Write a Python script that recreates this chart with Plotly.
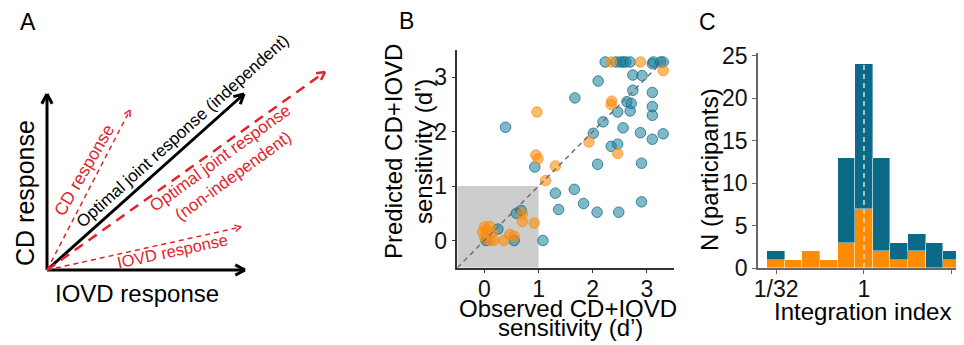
import math
import plotly.graph_objects as go

# ---------------- Panel B data (observed vs predicted d') ----------------
teal_x = [0.39, 0.25, 0.59, 0.68, 0.55, 0.03, 1.08, 0.93, 1.31, 1.37, 1.66, 1.83, 2.08, 2.48,
          1.67, 2.10, 2.01, 2.19, 2.09, 2.34, 2.46, 2.46, 2.56, 2.69, 2.63, 2.71, 2.74, 2.74,
          2.91, 2.88, 2.90, 2.90, 3.10, 3.10, 3.10, 3.10, 3.30, 3.10,
          2.23, 2.43, 2.51, 2.56, 2.61, 2.69, 3.12, 3.25, 3.30]
teal_y = [2.08, 0.21, 0.50, 0.55, 0.00, 0.00, 0.00, 1.35, 0.87, 0.57, 0.94, 0.68, 0.52, 0.52,
          2.62, 2.93, 1.97, 2.18, 1.40, 1.73, 1.77, 2.36, 2.07, 2.38, 2.55, 2.52, 2.76, 3.04,
          3.03, 1.98, 1.42, 0.71, 2.72, 2.46, 2.30, 1.86, 1.96, 3.25,
          3.28, 3.28, 3.28, 3.28, 3.28, 3.28, 3.28, 3.28, 3.28]
orange_x = [0.97, 0.95, 0.99, 1.31, 1.13, 1.93, 2.35, 2.34, 2.46, 2.34, 2.88, 3.30,
            0.00, 0.04, 0.00, 0.10, 0.17, 0.36, 0.47, 0.55, 0.70, 0.70, 0.92, 0.10, -0.03, 0.14]
orange_y = [2.36, 1.57, 1.50, 1.37, 1.10, 1.81, 2.56, 2.50, 1.60, 3.28, 3.28, 3.12,
            0.25, 0.17, 0.06, 0.00, 0.00, 0.00, 0.11, 0.08, 0.35, 0.49, 0.32, 0.26, 0.15, 0.14]
b_ticks = [0, 1, 2, 3]

# ---------------- Panel C data (integration index histogram) ----------------
bin_log2 = [-5, -4, -3, -2, -1, 0, 1, 2, 3, 4, 5]
orange_counts = [1, 1, 2, 1, 3, 7, 2, 1, 2, 0, 1]
teal_counts = [1, 0, 0, 0, 10, 17, 11, 2, 2, 3, 1]
c_xtick_vals = [-5, 0, 5]
c_xtick_text = ["1/32", "1", "32"]
c_yticks = [0, 5, 10, 15, 20, 25]

W, H = 964, 345
OFF = 8                      # page body margin of the HTML page
FW, FH = W - OFF, H - OFF    # figure size so that it fills the window
FONT = "Liberation Sans, Arial, Helvetica, sans-serif"
TEAL_HIST = "#0a6a88"
ORANGE_HIST = "#ff8c00"
RED = "#e3232b"


def PX(px):
    return (px - OFF) / FW


def PY(py):
    return 1 - (py - OFF) / FH


fig = go.Figure()

# Panel B traces
fig.add_trace(go.Scatter(x=teal_x, y=teal_y, mode="markers", xaxis="x", yaxis="y",
                         marker=dict(size=10.5, color="rgba(25,125,155,0.55)",
                                     line=dict(color="rgba(10,105,135,0.75)", width=1)),
                         showlegend=False, hoverinfo="skip"))
fig.add_trace(go.Scatter(x=orange_x, y=orange_y, mode="markers", xaxis="x", yaxis="y",
                         marker=dict(size=10.5, color="rgba(255,140,10,0.6)",
                                     line=dict(color="rgba(250,140,20,0.7)", width=1)),
                         showlegend=False, hoverinfo="skip"))

# Panel C traces (stacked)
fig.add_trace(go.Bar(x=bin_log2, y=orange_counts, width=1, xaxis="x2", yaxis="y2",
                     marker=dict(color=ORANGE_HIST, line=dict(color="rgba(255,255,255,0.5)", width=0.8)),
                     showlegend=False, hoverinfo="skip"))
fig.add_trace(go.Bar(x=bin_log2, y=teal_counts, width=1, xaxis="x2", yaxis="y2",
                     marker=dict(color=TEAL_HIST, line=dict(color="rgba(255,255,255,0.5)", width=0.8)),
                     showlegend=False, hoverinfo="skip"))

shapes = []
# Panel B grey region and identity line
shapes.append(dict(type="rect", xref="x", yref="y", x0=-0.5, y0=-0.5, x1=1, y1=1,
                   fillcolor="#cdcdcd", line=dict(width=0), layer="below"))
shapes.append(dict(type="line", xref="x", yref="y", x0=-0.5, y0=-0.5, x1=3.3, y1=3.3,
                   line=dict(color="#707070", width=1.5, dash="5px,4px"), layer="above"))
# Panel C reference line at index 1
shapes.append(dict(type="line", xref="x2", yref="y2", x0=0, y0=0, x1=0, y1=24.4,
                   line=dict(color="rgba(225,225,225,0.95)", width=1.5, dash="5px,4px"), layer="above"))


# Panel A schematic (coordinates in window pixels)
def arrow(x0, y0, x1, y1, color, width, dash=None, head=10, ang=28):
    shapes.append(dict(type="line", xref="x3", yref="y3", x0=x0, y0=y0, x1=x1, y1=y1,
                       line=dict(color=color, width=width, dash=dash) if dash else dict(color=color, width=width)))
    L = math.hypot(x1 - x0, y1 - y0)
    ux, uy = (x1 - x0) / L, (y1 - y0) / L
    for s in (1, -1):
        a = math.radians(ang) * s
        rx = ux * math.cos(a) - uy * math.sin(a)
        ry = ux * math.sin(a) + uy * math.cos(a)
        shapes.append(dict(type="line", xref="x3", yref="y3", x0=x1, y0=y1,
                           x1=x1 - head * rx, y1=y1 - head * ry,
                           line=dict(color=color, width=width)))


ox, oy = 47, 270
arrow(ox, oy, ox, 94, "black", 3, head=11)
arrow(ox, oy, 245, oy, "black", 3, head=11)
arrow(ox, oy, 244, 94, "black", 3, head=11)
arrow(ox, oy, 130, 110, RED, 1.5, dash="5px,4px", head=7)
arrow(ox, oy, 325, 72, RED, 2.5, dash="10px,7px", head=9)
arrow(ox, oy, 241, 227, RED, 1.5, dash="5px,4px", head=7)

ann = []


def txt(px, py, s, size=24, color="black", angle=0, ref="paper", **kw):
    if ref == "paper":
        d = dict(xref="paper", yref="paper", x=PX(px), y=PY(py))
    else:
        d = dict(xref="x3", yref="y3", x=px, y=py)
    d.update(text=s, showarrow=False, textangle=angle, xanchor="center", yanchor="middle",
             font=dict(family=FONT, size=size, color=color))
    d.update(kw)
    ann.append(d)


# Panel letters
txt(28, 22, "A", size=23)
txt(406, 21, "B", size=23)
txt(707, 22, "C", size=23)

# Panel A texts
txt(25, 193, "CD response", size=25, angle=-90, ref="x3")
txt(137, 293, "IOVD response", size=24, ref="x3")
txt(84, 170, "CD response", size=17.5, color=RED, angle=-60, ref="x3")
txt(182, 131, "Optimal joint response (independent)", size=17, angle=-42, ref="x3")
txt(226, 167, "Optimal joint response<br>(non-independent)", size=17, color=RED, angle=-36, ref="x3")
txt(172, 251, "IOVD response", size=16.5, color=RED, angle=-12, ref="x3")

# Panel B titles
txt(393, 152, "Predicted CD+IOVD", angle=-90)
txt(423, 152, "sensitivity (d’)", angle=-90)
txt(568, 308, "Observed CD+IOVD")
txt(570, 327, "sensitivity (d’)")

# Panel C titles
txt(710, 170, "N (participants)", angle=-90)
txt(862, 311, "Integration index")

axis_common = dict(showgrid=False, zeroline=False, showline=True, ticks="outside", ticklen=4,
                   automargin=False, tickfont=dict(family=FONT, size=23, color="#111"))

fig.update_layout(
    template="none",
    width=FW, height=FH, margin=dict(l=0, r=0, t=0, b=0, pad=0, autoexpand=False),
    paper_bgcolor="white", plot_bgcolor="rgba(0,0,0,0)",
    font=dict(family=FONT, color="#111"),
    barmode="stack", bargap=0, showlegend=False,
    xaxis=dict(domain=[PX(457.3), PX(674)], range=[-0.5, 3.5], tickvals=b_ticks,
               linecolor="#333", linewidth=1.5, tickcolor="#333", anchor="y",
               ticklabelstandoff=-4, **axis_common),
    yaxis=dict(domain=[PY(267.7), PY(50)], range=[-0.5, 3.5], tickvals=b_ticks,
               linecolor="#333", linewidth=1.5, tickcolor="#333", anchor="x", **axis_common),
    xaxis2=dict(domain=[PX(758), 1.0], range=[-6.03, 5.69], tickvals=c_xtick_vals, ticktext=c_xtick_text,
                linecolor="#666", linewidth=1.5, tickcolor="#666", anchor="y2",
                ticklabelstandoff=-4, **axis_common),
    yaxis2=dict(domain=[PY(268), PY(53)], range=[0, 25.35], tickvals=c_yticks,
                linecolor="#666", linewidth=1.5, tickcolor="#666", anchor="x2", **axis_common),
    xaxis3=dict(domain=[0, PX(347)], range=[OFF, 347], visible=False, anchor="y3", automargin=False),
    yaxis3=dict(domain=[0, 1], range=[H, OFF], visible=False, anchor="x3", automargin=False),
    shapes=shapes, annotations=ann,
)

fig.write_html("out.html")
